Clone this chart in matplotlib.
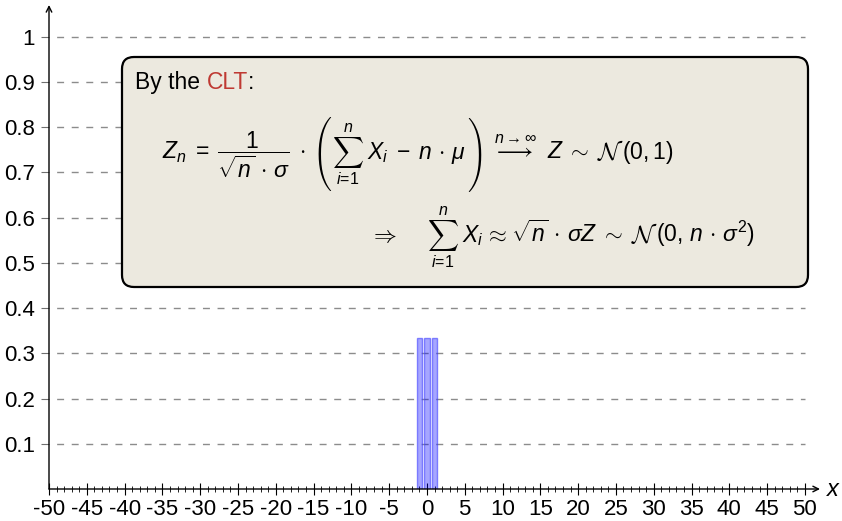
import os
import matplotlib
matplotlib.use('Agg')
import matplotlib.pyplot as plt
from matplotlib.patches import FancyBboxPatch
from matplotlib.transforms import IdentityTransform
from matplotlib.font_manager import FontProperties
from matplotlib.textpath import TextPath

plt.rcParams['font.family'] = ['Liberation Sans', 'DejaVu Sans']
plt.rcParams['mathtext.fontset'] = 'custom'
plt.rcParams['mathtext.rm'] = 'Liberation Sans'
plt.rcParams['mathtext.it'] = 'Liberation Sans:italic'
plt.rcParams['mathtext.bf'] = 'Liberation Sans:bold'
plt.rcParams['mathtext.sf'] = 'Liberation Sans'
plt.rcParams['mathtext.fallback'] = 'cm'
plt.rcParams['axes.unicode_minus'] = False

# ---- data ----
bar_x = [-1, 0, 1]
bar_h = [0.333, 0.333, 0.333]
x_ticks = list(range(-50, 51, 5))
x_tick_labels = [str(v) for v in x_ticks]
x_minor = list(range(-50, 51, 1))
y_ticks = [0.1, 0.2, 0.3, 0.4, 0.5, 0.6, 0.7, 0.8, 0.9, 1.0]
y_tick_labels = ['0.1', '0.2', '0.3', '0.4', '0.5', '0.6', '0.7', '0.8', '0.9', '1']

W, H = 842, 521
fig = plt.figure(figsize=(W / 100, H / 100), dpi=100)
ax = fig.add_axes([49 / W, (H - 489) / H, (820 - 49) / W, (489 - 5) / H])
ax.set_xlim(-50, 52)
ax.set_ylim(0, 1.07)
for s in ax.spines.values():
    s.set_visible(False)

ax.hlines(y_ticks, -50, 50, colors='#8c8c8c', linewidth=1.0,
          linestyles=[(5, (5, 5.5))], zorder=1)

ax.bar(bar_x, bar_h, width=0.75, color=(0, 0, 1, 0.35),
       edgecolor=(0.25, 0.25, 1, 0.6), linewidth=1.0, zorder=2)

ax.annotate('', xy=(52, 0), xytext=(-50, 0),
            arrowprops=dict(arrowstyle='->', lw=1.0, color='black',
                            shrinkA=0, shrinkB=0), annotation_clip=False, zorder=3)
ax.annotate('', xy=(-50, 1.07), xytext=(-50, 0),
            arrowprops=dict(arrowstyle='->', lw=1.0, color='black',
                            shrinkA=0, shrinkB=0), annotation_clip=False, zorder=3)

ax.set_xticks(x_ticks, x_tick_labels)
ax.set_xticks(x_minor, minor=True)
ax.tick_params(axis='x', which='major', direction='inout', length=8, width=0.8,
               pad=3, labelsize=16)
ax.tick_params(axis='x', which='minor', direction='inout', length=4, width=0.6)
ax.set_yticks(y_ticks, y_tick_labels)
ax.tick_params(axis='y', which='major', direction='out', length=6, width=0.8,
               color='#707070', pad=4, labelsize=16)

tr = IdentityTransform()
fig.text(833, H - 489, 'x', transform=tr, fontsize=17, fontstyle='italic',
         ha='center', va='center')

box = FancyBboxPatch((122, H - 287), 686, 230,
                     boxstyle='round,pad=0,rounding_size=12',
                     transform=tr, facecolor='#ece9df', edgecolor='black',
                     linewidth=1.6, zorder=4)
fig.add_artist(box)

renderer = fig.canvas.get_renderer()
CMEX = os.path.join(matplotlib.get_data_path(), 'fonts', 'ttf', 'cmex10.ttf')
K = 100 / 72
FS = 16.5


def mtext(x, y, s, fs=FS, **kw):
    """Text with baseline at pixel (x, y from top); returns right edge."""
    t = fig.text(x, H - y, s, transform=tr, fontsize=fs, ha='left',
                 va='baseline', zorder=5, **kw)
    return x + t.get_window_extent(renderer).width


def big(x, axis_y, ch, fs):
    """Large cmex glyph centred on the math axis; returns right edge."""
    fp = FontProperties(fname=CMEX, size=fs)
    ext = TextPath((0, 0), ch, size=fs, prop=fp).get_extents()
    x0, x1 = ext.x0 * K, ext.x1 * K
    yc = (ext.y0 + ext.y1) / 2 * K
    fig.text(x - x0, (H - axis_y) - yc, ch, transform=tr, fontproperties=fp,
             ha='left', va='baseline', zorder=5)
    return x + (x1 - x0)


def bigsum(x, axis_y, target_h=35.0):
    fs0 = 17.3
    t = fig.text(x, H - axis_y, r'$\sum$', transform=tr, fontsize=fs0,
                 math_fontfamily='cm', ha='left', va='center', zorder=5)
    bb = t.get_window_extent(renderer)
    if bb.height > 0:
        t.set_fontsize(fs0 * target_h / bb.height)
    bb = t.get_window_extent(renderer)
    top, bot = H - bb.y1, H - bb.y0
    cx = (bb.x0 + bb.x1) / 2
    fig.text(cx, H - (top - 3), r'$n$', transform=tr, fontsize=11.5,
             ha='center', va='baseline', zorder=5)
    fig.text(cx, H - (bot + 14), r'$i\!=\!1$', transform=tr, fontsize=11.5,
             ha='center', va='baseline', zorder=5)
    return bb.x1


cm = {'math_fontfamily': 'cm'}

# By the CLT:
x = mtext(135, 89, 'By the ')
x = mtext(x, 89, 'CLT', color='#bf3a33')
mtext(x, 89, ':')

# line 1
b1, a1 = 159, 153
x = mtext(162, b1, r"$Z_n\;=\;\dfrac{1}{\sqrt{n}\,\cdot\,\sigma}\;\cdot$")
x = big(x + 12, a1, '\xc3', 17.3)
x = bigsum(x + 2, a1)
x = mtext(x + 3, b1, r"$X_i\;-\;n\,\cdot\,\mu$")
x = big(x + 2, a1, '!', 17.3)
x = mtext(x + 13, b1, r"$\overset{n\to\infty}{\longrightarrow}\;\;Z\;\sim$")
x = mtext(x + 8, b1 + 1, r"$\mathcal{N}$", fs=18, **cm)
mtext(x - 2, b1, r"$(0,1)$")

# line 2
b2, a2 = 242, 235.5
mtext(370, b2, r"$\Rightarrow$")
x = bigsum(427, a2)
x = mtext(x + 3, b2, r"$X_i\;$")
x = mtext(x, b2, r"$\approx$", **cm)
x = mtext(x, b2, r"$\;\sqrt{n}\,\cdot\,\sigma Z\;\sim$")
x = mtext(x + 8, b2 + 1, r"$\mathcal{N}$", fs=18, **cm)
mtext(x - 2, b2, r"$(0,\,n\,\cdot\,\sigma^2)$")

fig.savefig('out.png', dpi=100)
